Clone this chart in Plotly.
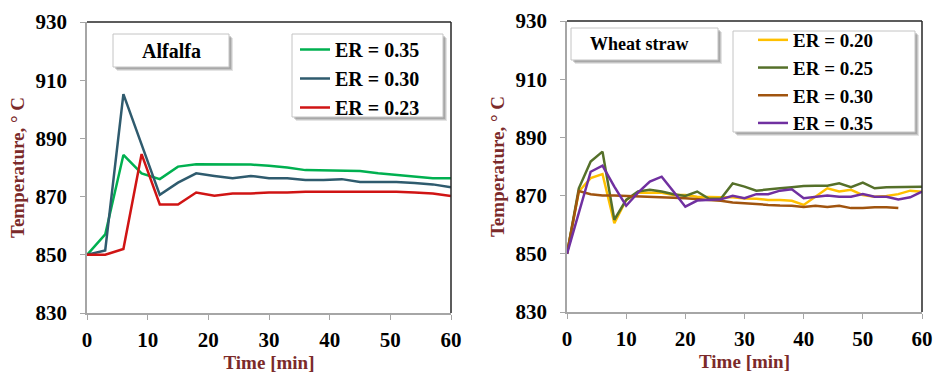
import plotly.graph_objects as go

# ---- Alfalfa runs (3-min sampling) ----
time_alfalfa = [0, 3, 6, 9, 12, 15, 18, 21, 24, 27, 30, 33, 36, 39, 42, 45, 48, 51, 54, 57, 60]
alfalfa_er035 = [850, 857, 884.3, 878, 876, 880.3, 881.1, 881, 881, 881, 880.6, 880, 879.1, 879,
                 878.8, 878.8, 878, 877.4, 877, 876.3, 876.3]
alfalfa_er030 = [850, 851.5, 905.2, 888, 870.6, 874.8, 878, 877.1, 876.3, 877.1, 876.3, 876.3,
                 875.7, 875.7, 876, 875, 875, 875, 874.7, 874.2, 873.2]
alfalfa_er023 = [850, 850, 852, 884.6, 867.3, 867.3, 871.4, 870.3, 871.1, 871.1, 871.4, 871.4,
                 871.7, 871.7, 871.7, 871.7, 871.7, 871.7, 871.4, 871.1, 870.2]

# ---- Wheat straw runs (2-min sampling) ----
time_wheat = [0, 2, 4, 6, 8, 10, 12, 14, 16, 18, 20, 22, 24, 26, 28, 30, 32, 34, 36, 38, 40,
              42, 44, 46, 48, 50, 52, 54, 56, 58, 60]
wheat_er020 = [850, 871.4, 876, 877.4, 860.5, 868.5, 871, 871, 871, 870.2, 870.2, 869.6, 869.4,
               869.4, 869.4, 869, 868.9, 868.5, 868.5, 868.2, 866.8, 869.6, 872.5, 871.4, 872,
               870.2, 869.6, 869.9, 870.5, 871.7, 871.3]
wheat_er025 = [850, 872.5, 881.7, 885.1, 861.7, 868.5, 871.4, 872, 871.4, 870.5, 869.9, 871.4,
               868.9, 868.9, 874.2, 873.1, 871.7, 872.2, 872.5, 872.9, 873.3, 873.4, 873.4,
               874.2, 872.9, 874.5, 872.5, 872.9, 873, 873, 873]
wheat_er030 = [850, 871.6, 870.5, 870, 870, 869.9, 869.6, 869.6, 869.6, 869.3, 869.1, 868.7,
               868.5, 868.2, 867.6, 867.4, 867, 866.8, 866.6, 866.5, 866.1, 866.5, 866.1, 866.5,
               865.7, 865.7, 866, 866, 865.7]
wheat_er035 = [850, 864, 878.2, 880.3, 873.1, 866.5, 871, 874.8, 876.5, 871.4, 866.2, 868.3,
               868.5, 868.7, 869.9, 869.1, 870.5, 870.5, 871.7, 872.2, 869.1, 869.6, 870, 869.6,
               869.6, 870.5, 869.6, 869.6, 868.7, 869.4, 871.4]

y_ticks = [830, 850, 870, 890, 910, 930]
x_ticks = [0, 10, 20, 30, 40, 50, 60]

SERIF = '"Liberation Serif", "Times New Roman", serif'
TITLE_RED = "#7b2a2a"
LW = 2.5

fig = go.Figure()

left_series = [
    ("ER = 0.35", alfalfa_er035, "#00b050"),
    ("ER = 0.30", alfalfa_er030, "#2f5b6e"),
    ("ER = 0.23", alfalfa_er023, "#d01414"),
]
for name, vals, col in left_series:
    fig.add_trace(go.Scatter(
        x=time_alfalfa, y=vals, mode="lines", name=name,
        line=dict(color=col, width=LW), xaxis="x", yaxis="y", legend="legend",
    ))

right_series = [
    ("ER = 0.20", time_wheat, wheat_er020, "#ffc000"),
    ("ER = 0.25", time_wheat, wheat_er025, "#55702a"),
    ("ER = 0.30", time_wheat[:len(wheat_er030)], wheat_er030, "#a0540f"),
    ("ER = 0.35", time_wheat, wheat_er035, "#7030a0"),
]
for name, tx, vals, col in right_series:
    fig.add_trace(go.Scatter(
        x=tx, y=vals, mode="lines", name=name,
        line=dict(color=col, width=LW), xaxis="x2", yaxis="y2", legend="legend2",
    ))

W, H = 936, 378
left_dom_x = [87 / W, 451 / W]
right_dom_x = [567 / W, 922 / W]
left_dom_y = [(H - 313) / H, (H - 22) / H]
right_dom_y = [(H - 312) / H, (H - 21) / H]

tick_font = dict(family=SERIF, size=21, color="black", weight="bold")
axis_title_font = dict(family=SERIF, size=19, color=TITLE_RED, weight="bold")


def xaxis_cfg(domain, anchor):
    return dict(
        domain=domain, anchor=anchor, range=[0, 60], tickvals=x_ticks, automargin=False,
        showgrid=False, zeroline=False, showline=True, linecolor="#a6a6a6", linewidth=1.5,
        ticks="outside", ticklen=5, tickcolor="#a6a6a6", tickfont=tick_font,
        ticklabelstandoff=2,
        title=dict(text="Time [min]", font=axis_title_font, standoff=4),
    )


def yaxis_cfg(domain, anchor):
    return dict(
        domain=domain, anchor=anchor, range=[830, 930], tickvals=y_ticks, automargin=False,
        showgrid=False, zeroline=False, showline=True, linecolor="#a6a6a6", linewidth=1.5,
        ticks="outside", ticklen=5, tickcolor="#a6a6a6", tickfont=tick_font,
        ticklabelstandoff=9,
        title=dict(text="Temperature, ° C", font=axis_title_font, standoff=6),
    )


def legend_cfg(x_px, top_px, size):
    # legend entries sit on a framed box drawn as a shape underneath
    return dict(
        font=dict(family=SERIF, size=size, color="black", weight="bold"),
        bgcolor="rgba(0,0,0,0)", borderwidth=0,
        xanchor="left", yanchor="top", tracegroupgap=0, itemclick=False,
        x=x_px / W, y=(H - top_px) / H,
    )


shapes = []
# plot frames: dark top and right edges
for xr, yr in (("x domain", "y domain"), ("x2 domain", "y2 domain")):
    shapes.append(dict(type="line", xref=xr, yref=yr, x0=0, x1=1, y0=1, y1=1,
                       line=dict(color="#262626", width=1.5)))
    shapes.append(dict(type="line", xref=xr, yref=yr, x0=1, x1=1, y0=0, y1=1,
                       line=dict(color="#262626", width=1.5)))


def framed_box(x0, y0, x1, y1, shadow=True):
    # white box with a soft drop shadow, in pixels from the top-left corner
    out = []
    if shadow:
        for off, op in ((4, 0.16), (3, 0.22), (2, 0.28)):
            out.append(dict(type="rect", xref="paper", yref="paper",
                            x0=(x0 + off) / W, x1=(x1 + off) / W,
                            y0=(H - (y1 + off)) / H, y1=(H - (y0 + off)) / H,
                            fillcolor=f"rgba(90,90,90,{op})", line=dict(width=0),
                            layer="above"))
    out.append(dict(type="rect", xref="paper", yref="paper",
                    x0=x0 / W, x1=x1 / W, y0=(H - y1) / H, y1=(H - y0) / H,
                    fillcolor="white", line=dict(color="#c4c4c4", width=1), layer="above"))
    return out


shapes += framed_box(113, 34, 229, 67)
shapes += framed_box(571, 28, 718, 60)
shapes += framed_box(292, 34, 443, 117)
shapes += framed_box(733, 31, 915, 132)

annotations = [
    dict(text="<b>Alfalfa</b>", xref="paper", yref="paper",
         x=171 / W, y=(H - 50.5) / H, xanchor="center", yanchor="middle",
         showarrow=False, font=dict(family=SERIF, size=20, color="black")),
    dict(text="<b>Wheat straw</b>", xref="paper", yref="paper",
         x=639 / W, y=(H - 44) / H, xanchor="center", yanchor="middle",
         showarrow=False, font=dict(family=SERIF, size=18, color="black")),
]

fig.update_layout(
    width=W, height=H,
    margin=dict(l=0, r=0, t=0, b=0),
    paper_bgcolor="white", plot_bgcolor="white",
    xaxis=xaxis_cfg(left_dom_x, "y"),
    yaxis=yaxis_cfg(left_dom_y, "x"),
    xaxis2=xaxis_cfg(right_dom_x, "y2"),
    yaxis2=yaxis_cfg(right_dom_y, "x2"),
    legend=legend_cfg(295, 30, 20),
    legend2=legend_cfg(753, 21, 19),
    shapes=shapes,
    annotations=annotations,
    showlegend=True,
)

fig.write_html("out.html")
